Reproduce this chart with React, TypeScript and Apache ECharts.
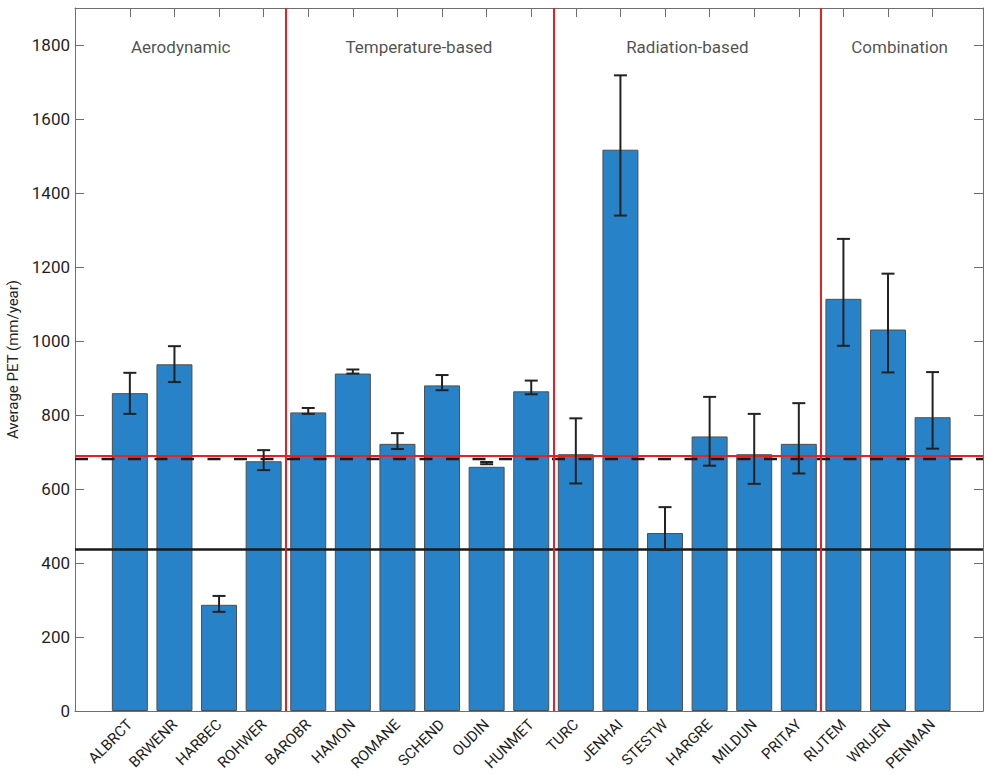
import React, { useEffect, useRef } from "react";
import * as echarts from "echarts";

const categories = ["ALBRCT", "BRWENR", "HARBEC", "ROHWER", "BAROBR", "HAMON", "ROMANE", "SCHEND", "OUDIN", "HUNMET", "TURC", "JENHAI", "STESTW", "HARGRE", "MILDUN", "PRITAY", "RIJTEM", "WRIJEN", "PENMAN"];
const meanPET = [859, 937, 287, 675, 807, 912, 722, 880, 660, 864, 694, 1517, 481, 742, 694, 722, 1114, 1031, 794];
const errLow = [803, 889, 268, 651, 803, 912, 708, 867, 667, 856, 615, 1339, 435, 663, 614, 642, 987, 915, 709];
const errHigh = [914, 986, 311, 705, 819, 923, 751, 908, 673, 893, 791, 1718, 551, 849, 803, 832, 1276, 1182, 916];

const groupNames = ["Aerodynamic", "Temperature-based", "Radiation-based", "Combination"];
const groupLabelX = [2.14, 7.48, 13.5, 18.26];
const groupLabelY = 1795;
const groupDividers = [4.5, 10.5, 16.5];

const redLineValue = 689;
const dashedLineValue = 682;
const blackLineValue = 437;

const yTicks = [0, 200, 400, 600, 800, 1000, 1200, 1400, 1600, 1800];

const FONT = "Roboto, 'Liberation Sans Narrow', 'Noto Sans', sans-serif";
const xPositions = categories.map((_, i) => i + 1);

export default function App() {
  const ref = useRef<HTMLDivElement>(null);
  useEffect(() => {
    if (!ref.current) return;
    const chart = echarts.init(ref.current, null, { renderer: "svg" });
    const axisColor = "#6e6e6e";
    const textColor = "#1f1f1f";
    const option: any = {
      animation: false,
      backgroundColor: "#ffffff",
      grid: { left: 75, right: 1, top: 8, bottom: 64, containLabel: false, outerBoundsMode: "none" },
      xAxis: [
        {
          type: "value",
          min: -0.23,
          max: 20.13,
          position: "bottom",
          splitLine: { show: false },
          axisLine: { show: true, onZero: false, lineStyle: { color: axisColor, width: 1 } },
          axisTick: { show: true, inside: true, length: 9, customValues: xPositions, lineStyle: { color: axisColor } },
          axisLabel: {
            show: true,
            customValues: xPositions,
            rotate: 45,
            margin: 11,
            fontFamily: FONT,
            fontSize: 15,
            color: textColor,
            formatter: (v: number) => categories[Math.round(v) - 1] ?? "",
          },
        },
        {
          type: "value",
          min: -0.23,
          max: 20.13,
          position: "top",
          splitLine: { show: false },
          axisLine: { show: true, onZero: false, lineStyle: { color: axisColor, width: 1 } },
          axisTick: { show: true, inside: true, length: 9, customValues: xPositions, lineStyle: { color: axisColor } },
          axisLabel: { show: false },
        },
      ],
      yAxis: [
        {
          type: "value",
          min: 0,
          max: 1900,
          position: "left",
          name: "Average PET (mm/year)",
          nameLocation: "middle",
          nameGap: 52,
          nameTextStyle: { fontFamily: FONT, fontSize: 15, color: textColor },
          splitLine: { show: false },
          axisLine: { show: true, onZero: false, lineStyle: { color: axisColor, width: 1 } },
          axisTick: { show: true, inside: true, length: 9, customValues: yTicks, lineStyle: { color: axisColor } },
          axisLabel: {
            show: true,
            customValues: yTicks,
            margin: 5,
            fontFamily: FONT,
            fontSize: 17,
            color: textColor,
            formatter: (v: number) => String(v),
          },
        },
        {
          type: "value",
          min: 0,
          max: 1900,
          position: "right",
          splitLine: { show: false },
          axisLine: { show: true, onZero: false, lineStyle: { color: axisColor, width: 1 } },
          axisTick: { show: true, inside: true, length: 9, customValues: yTicks, lineStyle: { color: axisColor } },
          axisLabel: { show: false },
        },
      ],
      series: [
        {
          type: "bar",
          xAxisIndex: 0,
          yAxisIndex: 0,
          barWidth: 36,
          z: 2,
          itemStyle: { color: "#2882c8", borderColor: "#4f4f4f", borderWidth: 1 },
          data: xPositions.map((x, i) => [x, meanPET[i]]),
        },
        {
          type: "line",
          xAxisIndex: 0,
          yAxisIndex: 0,
          data: [],
          z: 4,
          markLine: {
            silent: true,
            symbol: "none",
            label: { show: false },
            animation: false,
            data: [
              { yAxis: dashedLineValue, lineStyle: { color: "#1a1a1a", width: 2.4, type: [13, 13.5] } },
              { yAxis: redLineValue, lineStyle: { color: "#ee1c25", width: 2.2, type: "solid" } },
              { yAxis: blackLineValue, lineStyle: { color: "#1a1a1a", width: 2.5, type: "solid" } },
              ...groupDividers.map((x) => ({ xAxis: x, lineStyle: { color: "#ee1c25", width: 2, type: "solid" } })),
            ],
          },
        },
        {
          type: "custom",
          xAxisIndex: 0,
          yAxisIndex: 0,
          z: 5,
          encode: { x: 0, y: [1, 2] },
          data: xPositions.map((x, i) => [x, errLow[i], errHigh[i]]),
          renderItem: (params: any, api: any) => {
            const x = api.value(0);
            const lo = api.coord([x, api.value(1)]);
            const hi = api.coord([x, api.value(2)]);
            const hw = 6.5;
            const style = { stroke: "#222222", lineWidth: 2, fill: "none" };
            return {
              type: "group",
              children: [
                { type: "line", shape: { x1: lo[0], y1: hi[1], x2: lo[0], y2: lo[1] }, style },
                { type: "line", shape: { x1: lo[0] - hw, y1: hi[1], x2: lo[0] + hw, y2: hi[1] }, style },
                { type: "line", shape: { x1: lo[0] - hw, y1: lo[1], x2: lo[0] + hw, y2: lo[1] }, style },
              ],
            };
          },
        },
        {
          type: "scatter",
          xAxisIndex: 0,
          yAxisIndex: 0,
          symbolSize: 0,
          z: 6,
          silent: true,
          label: {
            show: true,
            position: "inside",
            formatter: (p: any) => p.data[2],
            fontFamily: FONT,
            fontSize: 17,
            color: textColor,
          },
          data: groupNames.map((n, i) => [groupLabelX[i], groupLabelY, n]),
        },
      ],
    };
    chart.setOption(option);
    return () => chart.dispose();
  }, []);
  return <div ref={ref} style={{ position: "fixed", left: 0, top: 0, width: 984, height: 775 }} />;
}
